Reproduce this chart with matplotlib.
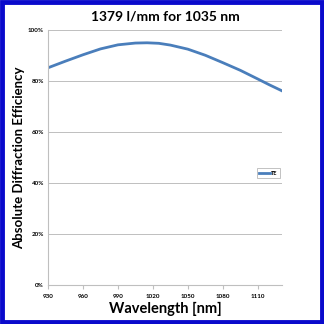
import matplotlib.pyplot as plt
from matplotlib.patches import Rectangle
from matplotlib.ticker import FuncFormatter

# TE efficiency of the 1379 l/mm grating
wavelength = [930, 945, 960, 975, 990, 1005, 1015, 1025, 1035, 1050, 1065, 1080, 1095, 1110, 1120, 1131]
efficiency = [85.3, 87.9, 90.4, 92.7, 94.3, 95.0, 95.1, 94.9, 94.2, 92.6, 90.2, 87.3, 84.3, 80.9, 78.6, 76.2]

x_ticks = [930, 960, 990, 1020, 1050, 1080, 1110]
y_ticks = [0, 20, 40, 60, 80, 100]

plt.rcParams['font.family'] = ['Lato', 'DejaVu Sans']

fig = plt.figure(figsize=(3.24, 3.24), dpi=100)
ax = fig.add_axes([48 / 324, 1 - 285.3 / 324, 234.3 / 324, 255 / 324])

ax.plot(wavelength, efficiency, color='#4A7EBB', linewidth=2.0, label='TE')

ax.set_xlim(930, 1131)
ax.set_ylim(0, 100)
ax.set_xticks(x_ticks)
ax.set_yticks(y_ticks)
ax.yaxis.set_major_formatter(FuncFormatter(lambda v, p: '%d%%' % v))
ax.tick_params(axis='both', labelsize=4.5, length=0, pad=3)
ax.tick_params(axis='x', length=3, color='#BFBFBF', direction='out')
for lab in ax.get_xticklabels() + ax.get_yticklabels():
    lab.set_fontweight('bold')

ax.grid(axis='y', color='#BFBFBF', linewidth=0.7)
ax.set_axisbelow(True)
for s in ['top', 'right']:
    ax.spines[s].set_visible(False)
for s in ['left', 'bottom']:
    ax.spines[s].set_color('#BFBFBF')
    ax.spines[s].set_linewidth(0.8)

ax.set_title('1379 l/mm for 1035 nm', fontsize=10, fontweight='bold', pad=7)
ax.set_xlabel('Wavelength [nm]', fontsize=10.5, fontweight='bold', labelpad=2)
ax.set_ylabel('Absolute Diffraction Efficiency', fontsize=9.5, fontweight='bold', labelpad=2)

leg = ax.legend(loc='center left', bbox_to_anchor=(0.88, 0.44), handlelength=2.0,
                frameon=True, fancybox=False, borderpad=0.4, handletextpad=0.2,
                prop={'size': 4, 'weight': 'bold'})
leg.get_frame().set_edgecolor('#A6A6A6')
leg.get_frame().set_linewidth(0.6)

# blue border round the whole figure
fig.patches.append(Rectangle((0.006, 0.006), 0.988, 0.988, transform=fig.transFigure,
                             fill=False, edgecolor='#0A0ACC', linewidth=3.5))

fig.savefig('out.png', dpi=100)
